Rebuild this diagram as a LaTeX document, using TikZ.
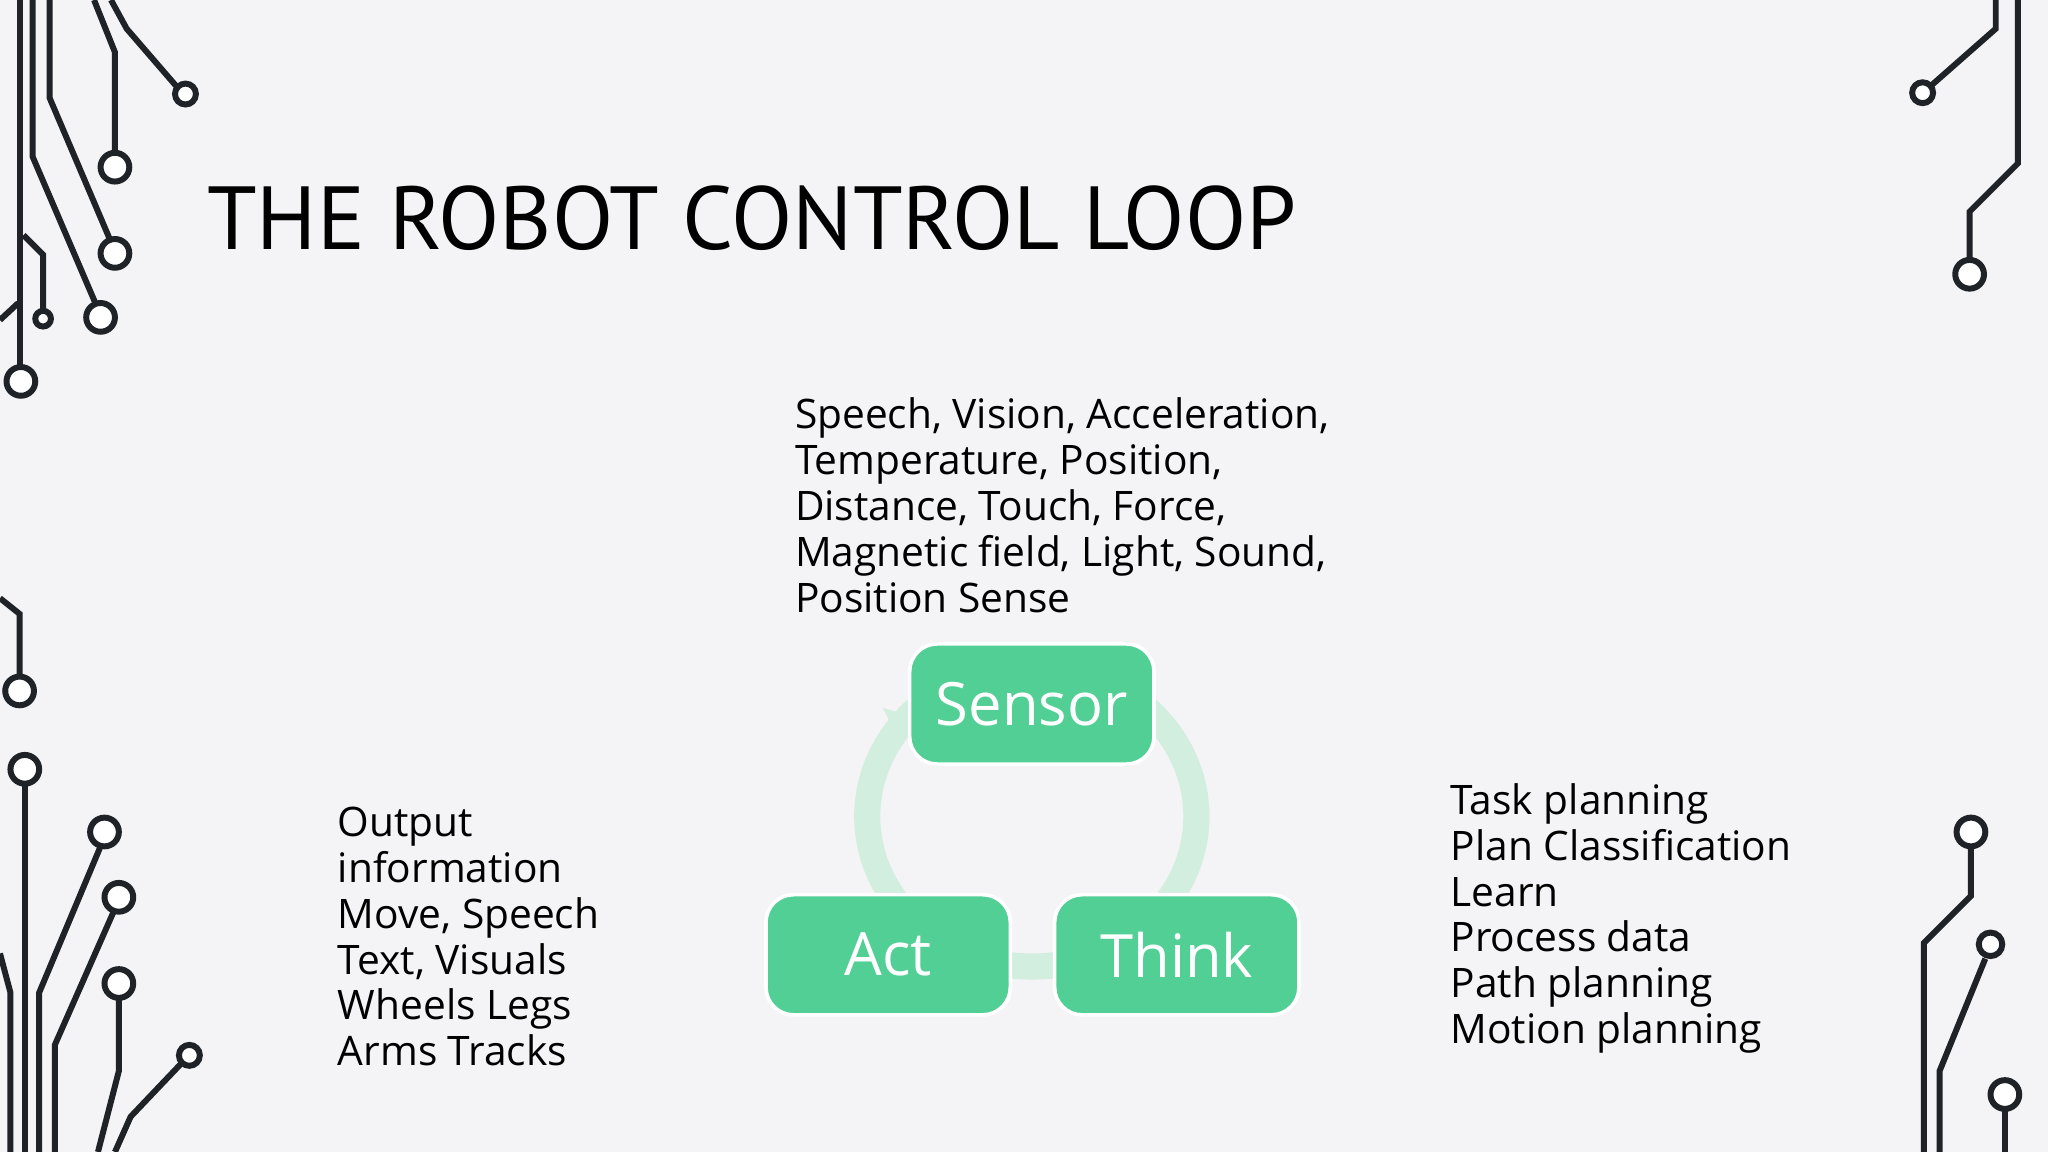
\documentclass[tikz,border=0pt]{standalone}
\usepackage{fontspec}
\setmainfont{Open Sans}
\newfontfamily\titlefont{PT Sans}
\usetikzlibrary{arrows.meta}
\definecolor{boxgreen}{HTML}{52CF95}
\definecolor{ringgreen}{HTML}{D2EEDF}
\definecolor{wire}{HTML}{1F2328}
\definecolor{slidebg}{HTML}{F4F4F6}
\begin{document}
\begin{tikzpicture}[
  x=0.01cm, y=-0.01cm,
  stepbox/.style={rectangle, rounded corners=6pt, fill=boxgreen, draw=white, thick, minimum width=1.87cm, minimum height=0.92cm, text=white, font=\fontsize{13}{15}\selectfont},
  infotext/.style={align=left, anchor=north west, font=\fontsize{8.85}{10}\selectfont, text=black, inner sep=0pt},
  wireline/.style={draw=wire, line width=1.3pt},
  pad/.style={draw=wire, line width=1.3pt, fill=white}
]
\fill[slidebg] (0,0) rectangle (1568,882);
\useasboundingbox (0,0) rectangle (1568,882);

% Circuit wires
\foreach \p in {
  {(15,0)--(15,281)}, {(25,0)--(25,120)--(73,232)}, {(38,0)--(38,75)--(84,183)},
  {(72,0)--(88,40)--(88,117)}, {(85,0)--(97,22)--(135,66)}, {(18,180)--(33,195)--(33,238)},
  {(0,245)--(14,232)},
  {(1528,0)--(1528,22)--(1478,66)}, {(1545,0)--(1545,125)--(1508,162)--(1508,199)},
  {(0,458)--(15,470)--(15,518)},
  {(19,600)--(19,882)}, {(77,648)--(30,760)--(30,882)}, {(87,698)--(42,800)--(42,882)},
  {(91,764)--(91,820)--(75,882)}, {(139,814)--(100,855)--(88,882)}, {(0,730)--(8,760)--(8,882)},
  {(1509,648)--(1509,686)--(1473,722)--(1473,882)}, {(1520,734)--(1485,820)--(1485,882)},
  {(1535,849)--(1535,882)}}
  \draw[wireline] \p;
\foreach \cx/\cy/\r in {16/292/11, 77/243/11, 88/194/11, 88/128/11, 142/72/8, 33/244/6,
  1472/71/8, 1508/210/11, 15/529/11, 19/589/11, 80/637/11, 91/687/11, 91/753/11,
  145/808/8, 1509/637/11, 1524/723/9, 1535/838/11}
  \draw[pad] (\cx,\cy) circle[radius=\r];

% Title
\node[anchor=west, inner sep=0pt, font=\titlefont\fontsize{19.5}{22}\selectfont] (title) at (158,167) {THE ROBOT CONTROL LOOP};

% Cycle ring
\draw[ringgreen, line width=0.2cm] (790,625) ellipse[x radius=126, y radius=115];
\fill[ringgreen] (676,542) -- (700,549) -- (690,570) -- cycle;

\node[stepbox] (sensor) at (790,539) {Sensor};
\node[stepbox] (think) at (901,731) {Think};
\node[stepbox] (act) at (680,731) {Act};

% Labels
\node[infotext] (senselist) at (608,304) {Speech, Vision, Acceleration,\\Temperature, Position,\\Distance, Touch, Force,\\Magnetic field, Light, Sound,\\Position Sense};
\node[infotext] (thinklist) at (1110,599) {Task planning\\Plan Classification\\Learn\\Process data\\Path planning\\Motion planning};
\node[infotext] (actlist) at (258,617) {Output\\information\\Move, Speech\\Text, Visuals\\Wheels Legs\\Arms Tracks};
\end{tikzpicture}
\end{document}
